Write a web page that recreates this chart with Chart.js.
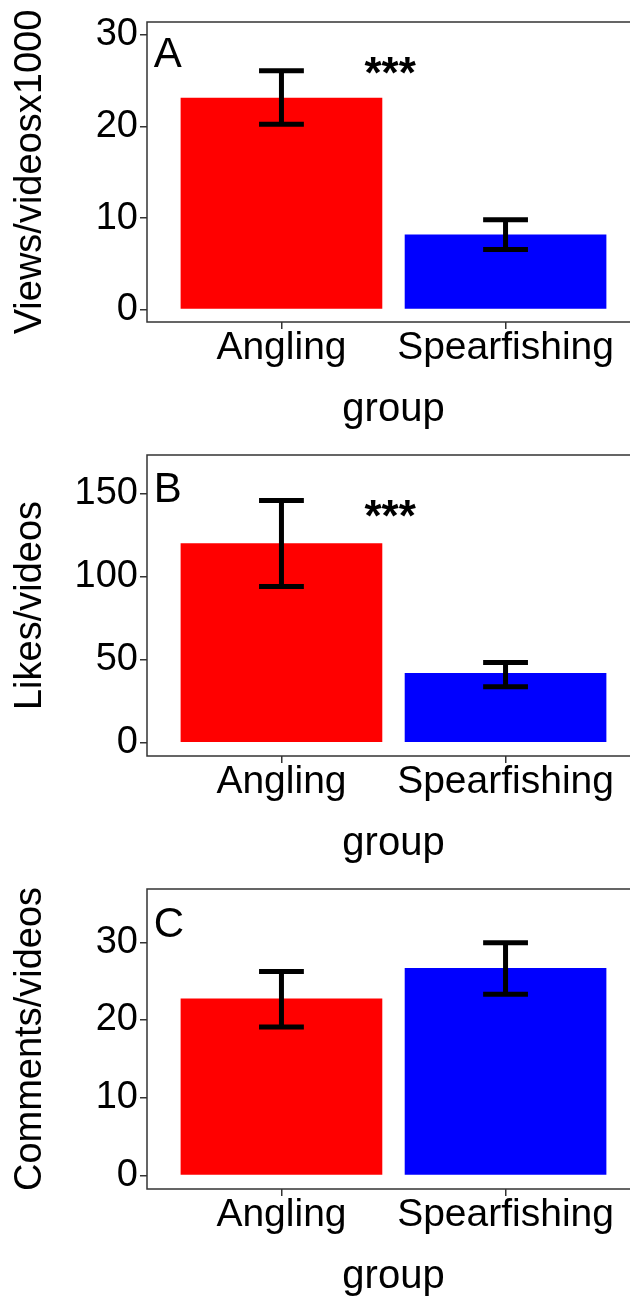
<!DOCTYPE html>
<html>
<head>
<meta charset="utf-8">
<script src="https://cdn.jsdelivr.net/npm/chart.js@4.4.0/dist/chart.umd.min.js"></script>
<style>
  html, body { margin: 0; padding: 0; background: #fff; overflow: hidden; }
  body { width: 630px; height: 1301px; position: relative; }
  canvas { position: absolute; left: 0; }
</style>
</head>
<body>
<canvas id="chartA" width="642" height="434" style="top:0px"></canvas>
<canvas id="chartB" width="642" height="434" style="top:434px"></canvas>
<canvas id="chartC" width="642" height="433" style="top:868px"></canvas>
<script>
// groups and colours
var groups = ['Angling', 'Spearfishing'];
var barColors = ['#ff0000', '#0000ff'];

// panel A - views
var viewsMean = [23.15, 8.2];
var viewsLow = [20.25, 6.55];
var viewsHigh = [26.1, 9.8];
var viewsTicks = [0, 10, 20, 30];

// panel B - likes
var likesMean = [120, 42];
var likesLow = [94, 33.6];
var likesHigh = [145.7, 48.3];
var likesTicks = [0, 50, 100, 150];

// panel C - comments
var commentsMean = [22.75, 26.7];
var commentsLow = [19.1, 23.3];
var commentsHigh = [26.25, 29.95];
var commentsTicks = [0, 10, 20, 30];

var fontFamily = '"Liberation Sans", Arial, sans-serif';

// error bars, panel letter, stars and the box around the panel
var panelExtras = {
    id: 'panelExtras',
    afterDatasetsDraw: function(chart, args, opts){
        var ctx = chart.ctx;
        var xs = chart.scales.x;
        var ys = chart.scales.y;
        ctx.save();
        ctx.strokeStyle = '#000';
        ctx.lineWidth = 5;
        ctx.lineCap = 'butt';
        for(var i = 0; i < opts.low.length; i++){
            var x = xs.getPixelForValue(i + 1);
            var hw = x - xs.getPixelForValue(i + 0.9);
            var yl = ys.getPixelForValue(opts.low[i]);
            var yh = ys.getPixelForValue(opts.high[i]);
            ctx.beginPath();
            ctx.moveTo(x, yl); ctx.lineTo(x, yh);
            ctx.moveTo(x - hw, yl); ctx.lineTo(x + hw, yl);
            ctx.moveTo(x - hw, yh); ctx.lineTo(x + hw, yh);
            ctx.stroke();
        }
        ctx.fillStyle = '#000';
        ctx.textBaseline = 'alphabetic';
        ctx.font = '42px ' + fontFamily;
        ctx.textAlign = 'left';
        ctx.fillText(opts.letter, xs.getPixelForValue(0.43), ys.getPixelForValue(opts.letterY));
        if(opts.stars){
            ctx.textAlign = 'center';
            ctx.font = 'bold 44px ' + fontFamily;
            ctx.fillText(opts.stars, xs.getPixelForValue(1.485), ys.getPixelForValue(opts.starsY));
        }
        var a = chart.chartArea;
        ctx.strokeStyle = '#333';
        ctx.lineWidth = 1.5;
        ctx.strokeRect(a.left, a.top, a.right - a.left, a.bottom - a.top);
        ctx.restore();
    }
};

function makePanel(id, mean, low, high, ticks, yMin, yMax, yTitle, letter, letterY, stars, starsY, padTop){
    var points = [];
    for(var i in mean){
        points.push({x: Number(i) + 1, y: mean[i]});
    }
    return new Chart(document.getElementById(id), {
        type: 'bar',
        data: {
            datasets: [{
                data: points,
                backgroundColor: barColors,
                borderWidth: 0,
                barPercentage: 0.9,
                categoryPercentage: 1.0
            }]
        },
        plugins: [panelExtras],
        options: {
            responsive: false,
            animation: false,
            layout: { padding: { top: padTop, right: 2, bottom: 0, left: 0 } },
            plugins: {
                legend: { display: false },
                tooltip: { enabled: false },
                panelExtras: { low: low, high: high, letter: letter, letterY: letterY, stars: stars, starsY: starsY }
            },
            scales: {
                x: {
                    type: 'linear',
                    min: 0.4,
                    max: 2.6,
                    offset: false,
                    afterBuildTicks: function(s){
                        s.ticks = groups.map(function(g, i){ return {value: i + 1}; });
                    },
                    afterFit: function(s){ s.height = 112; },
                    grid: { display: true, drawOnChartArea: false, drawTicks: true, tickLength: 7, color: '#333', lineWidth: 1.5, offset: false },
                    border: { display: false },
                    ticks: {
                        color: '#000',
                        font: { family: fontFamily, size: 39, lineHeight: 1 },
                        padding: 0,
                        maxRotation: 0,
                        autoSkip: false,
                        callback: function(v){ return groups[v - 1]; }
                    },
                    title: { display: true, text: 'group', color: '#000', font: { family: fontFamily, size: 40, lineHeight: 1 }, padding: { top: 0, bottom: 4 } }
                },
                y: {
                    min: yMin,
                    max: yMax,
                    afterBuildTicks: function(s){
                        s.ticks = ticks.map(function(v){ return {value: v}; });
                    },
                    afterFit: function(s){ s.width = 147; },
                    grid: { display: true, drawOnChartArea: false, drawTicks: true, tickLength: 7, color: '#333', lineWidth: 1.5 },
                    border: { display: false },
                    ticks: { color: '#000', font: { family: fontFamily, size: 38, lineHeight: 1 }, padding: 2 },
                    title: { display: true, text: yTitle, color: '#000', font: { family: fontFamily, size: 38, lineHeight: 1 }, padding: { top: 12, bottom: 0 } }
                }
            }
        }
    });
}

makePanel('chartA', viewsMean, viewsLow, viewsHigh, viewsTicks, -1.36, 31.42, 'Views/videosx1000', 'A', 26.5, '***', 24.2, 22);
makePanel('chartB', likesMean, likesLow, likesHigh, likesTicks, -8.0, 173.1, 'Likes/videos', 'B', 144.7, '***', 127.5, 20);
makePanel('chartC', commentsMean, commentsLow, commentsHigh, commentsTicks, -1.74, 36.85, 'Comments/videos', 'C', 30.7, '', 0, 20);
</script>
</body>
</html>
